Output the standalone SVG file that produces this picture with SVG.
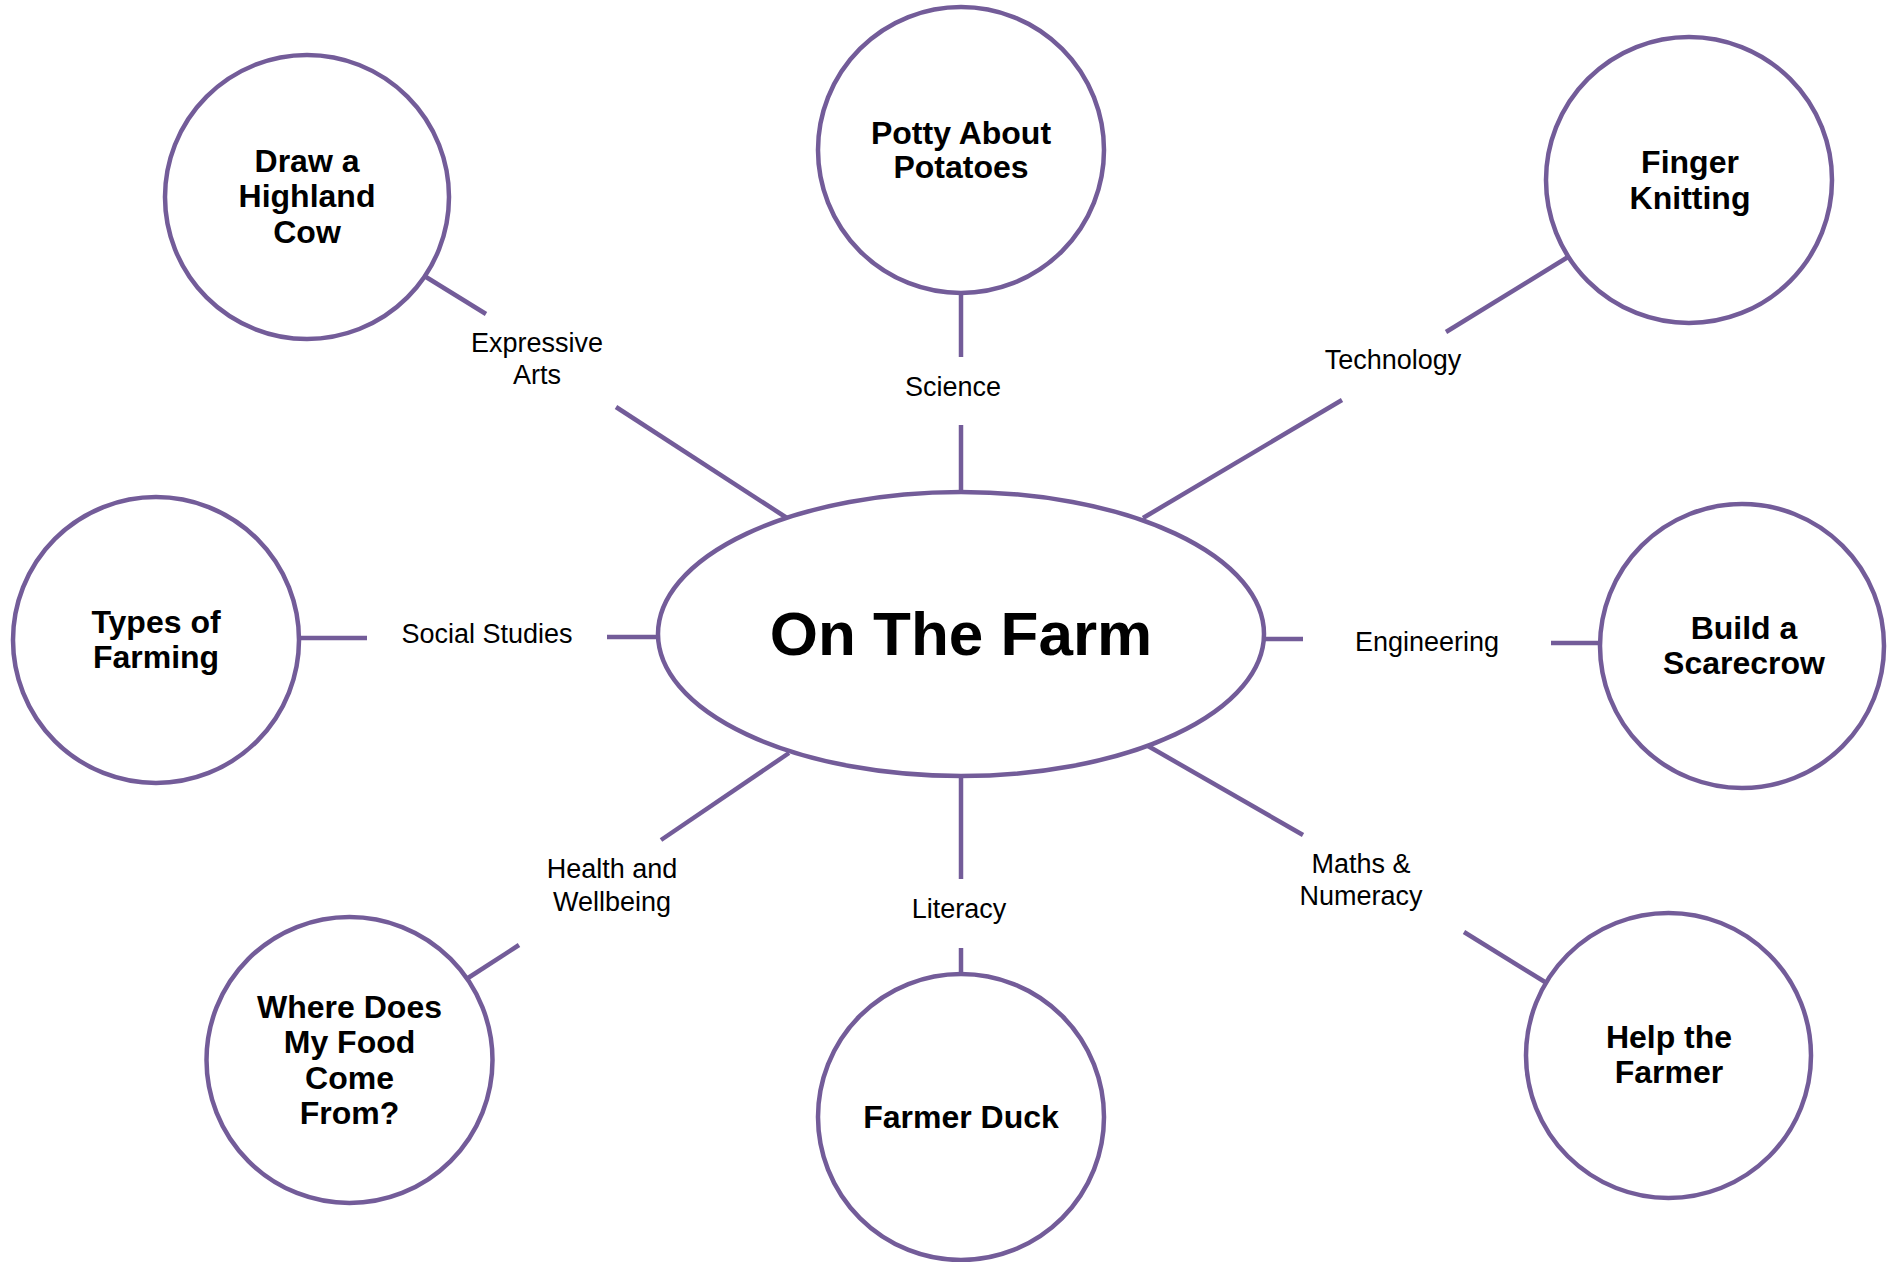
<svg xmlns="http://www.w3.org/2000/svg" width="1896" height="1262" viewBox="0 0 1896 1262">
<style>
.bg{fill:#ffffff}
.node{fill:#ffffff;stroke:#735c99;stroke-width:4.5}
.conn line{stroke:#735c99;stroke-width:4.5;stroke-linecap:butt}
.title{font-family:"Liberation Sans",Arial,sans-serif;font-weight:bold;font-size:32px;fill:#000;text-anchor:middle}
.main{font-family:"Liberation Sans",Arial,sans-serif;font-weight:bold;font-size:62px;fill:#000;text-anchor:middle}
.lbl{font-family:"Liberation Sans",Arial,sans-serif;font-size:27px;fill:#000;text-anchor:middle}
</style>
<rect class="bg" x="0" y="0" width="1896" height="1262"/>
<g id="connectors" class="conn">
  <!-- Expressive Arts -->
  <line x1="426" y1="277" x2="486" y2="314"/>
  <line x1="616" y1="407" x2="787" y2="518"/>
  <!-- Science -->
  <line x1="961" y1="293" x2="961" y2="357"/>
  <line x1="961" y1="425" x2="961" y2="492"/>
  <!-- Technology -->
  <line x1="1568" y1="257" x2="1446" y2="332"/>
  <line x1="1342" y1="400" x2="1143" y2="518"/>
  <!-- Social Studies -->
  <line x1="298" y1="638" x2="367" y2="638"/>
  <line x1="607" y1="637" x2="658" y2="637"/>
  <!-- Engineering -->
  <line x1="1264" y1="639" x2="1303" y2="639"/>
  <line x1="1551" y1="643" x2="1601" y2="643"/>
  <!-- Health and Wellbeing -->
  <line x1="789" y1="753" x2="661" y2="840"/>
  <line x1="519" y1="945" x2="468" y2="978"/>
  <!-- Literacy -->
  <line x1="961" y1="776" x2="961" y2="879"/>
  <line x1="961" y1="948" x2="961" y2="974"/>
  <!-- Maths & Numeracy -->
  <line x1="1148" y1="746" x2="1303" y2="835"/>
  <line x1="1464" y1="932" x2="1545" y2="982"/>
</g>
<g id="connector-labels">
  <text class="lbl" x="537" y="352">Expressive</text>
  <text class="lbl" x="537" y="384">Arts</text>
  <text class="lbl" x="953" y="396">Science</text>
  <text class="lbl" x="1393" y="369">Technology</text>
  <text class="lbl" x="487" y="643">Social Studies</text>
  <text class="lbl" x="1427" y="651">Engineering</text>
  <text class="lbl" x="612" y="878">Health and</text>
  <text class="lbl" x="612" y="911">Wellbeing</text>
  <text class="lbl" x="959" y="918">Literacy</text>
  <text class="lbl" x="1361" y="873">Maths &amp;</text>
  <text class="lbl" x="1361" y="905">Numeracy</text>
</g>
<g id="node-center">
  <ellipse class="node" cx="961" cy="634" rx="303" ry="142"/>
  <text class="main" x="961" y="655">On The Farm</text>
</g>
<g id="node-highland-cow">
  <circle class="node" cx="307" cy="197" r="142"/>
  <text class="title" x="307" y="172">Draw a</text>
  <text class="title" x="307" y="207">Highland</text>
  <text class="title" x="307" y="243">Cow</text>
</g>
<g id="node-potatoes">
  <circle class="node" cx="961" cy="150" r="143"/>
  <text class="title" x="961" y="144">Potty About</text>
  <text class="title" x="961" y="178">Potatoes</text>
</g>
<g id="node-finger-knitting">
  <circle class="node" cx="1689" cy="180" r="143"/>
  <text class="title" x="1690" y="173">Finger</text>
  <text class="title" x="1690" y="209">Knitting</text>
</g>
<g id="node-types-of-farming">
  <circle class="node" cx="156" cy="640" r="143"/>
  <text class="title" x="156" y="633">Types of</text>
  <text class="title" x="156" y="668">Farming</text>
</g>
<g id="node-scarecrow">
  <circle class="node" cx="1742" cy="646" r="142"/>
  <text class="title" x="1744" y="639">Build a</text>
  <text class="title" x="1744" y="674">Scarecrow</text>
</g>
<g id="node-food">
  <circle class="node" cx="349.5" cy="1060" r="143"/>
  <text class="title" x="349.5" y="1018">Where Does</text>
  <text class="title" x="349.5" y="1053">My Food</text>
  <text class="title" x="349.5" y="1089">Come</text>
  <text class="title" x="349.5" y="1124">From?</text>
</g>
<g id="node-farmer-duck">
  <circle class="node" cx="961" cy="1117" r="143"/>
  <text class="title" x="961" y="1128">Farmer Duck</text>
</g>
<g id="node-help-farmer">
  <circle class="node" cx="1668.5" cy="1055.5" r="142.5"/>
  <text class="title" x="1669" y="1048">Help the</text>
  <text class="title" x="1669" y="1083">Farmer</text>
</g>
</svg>
